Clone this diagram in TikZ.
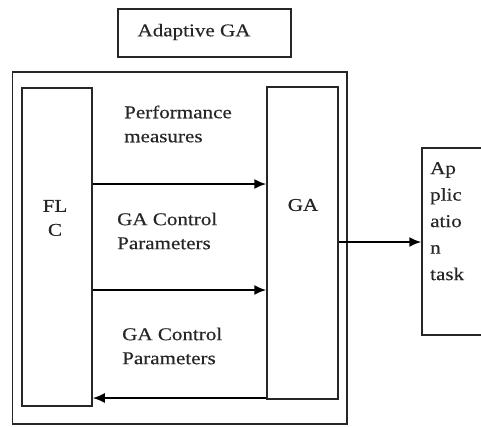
\documentclass[tikz,border=0pt]{standalone}
\usepackage{fontspec}
\setmainfont{Liberation Serif}[FakeStretch=1.17,FakeBold=0.4]
\usetikzlibrary{arrows.meta}
\begin{document}
\begin{tikzpicture}[x=1pt,y=-1pt,
  box/.style={draw=black!85, line width=1.5pt, inner sep=0pt},
  lbl/.style={font=\fontsize{18}{24}\selectfont, text=black!85, inner sep=0pt},
  arr/.style={line width=1.8pt, -{Latex[length=12pt,width=10pt]}}]
\useasboundingbox (0,0) rectangle (481,426);
% title
\node[box, minimum width=173pt, minimum height=48pt] (title) at (204.5,33) {};
\node[lbl] (titlet) at (194,32) {Adaptive GA};
% outer frame of the adaptive GA
\node[box, minimum width=334.5pt, minimum height=352pt] (frame) at (179.75,248) {};
% fuzzy logic controller
\node[box, minimum width=70pt, minimum height=318pt] (flc) at (57,247) {};
\node[lbl, align=center] (flct) at (55,218) {FL\\C};
% genetic algorithm
\node[box, minimum width=71pt, minimum height=312pt] (ga) at (302.5,243) {};
\node[lbl] (gat) at (303,205) {GA};
% application task
\node[box, minimum width=66pt, minimum height=187pt] (app) at (455,241.5) {};
\node[lbl, align=left, anchor=north west, font=\fontsize{18}{26.5}\selectfont] (appt) at (430,162) {Ap\\plic\\atio\\n\\task};
% arrow labels
\node[lbl, align=left, anchor=west] (perf) at (124,124) {Performance\\measures};
\node[lbl, align=left, anchor=west] (ctl1) at (117,231) {GA Control\\Parameters};
\node[lbl, align=left, anchor=west] (ctl2) at (122,346) {GA Control\\Parameters};
% connectors
\draw[arr] (flc.east |- 0,184) -- (ga.west |- 0,184);
\draw[arr] (flc.east |- 0,290) -- (ga.west |- 0,290);
\draw[arr] (ga.west |- 0,398) -- (flc.east |- 0,398);
\draw[arr] (ga.east |- 0,242) -- (app.west |- 0,242);
\end{tikzpicture}
\end{document}
